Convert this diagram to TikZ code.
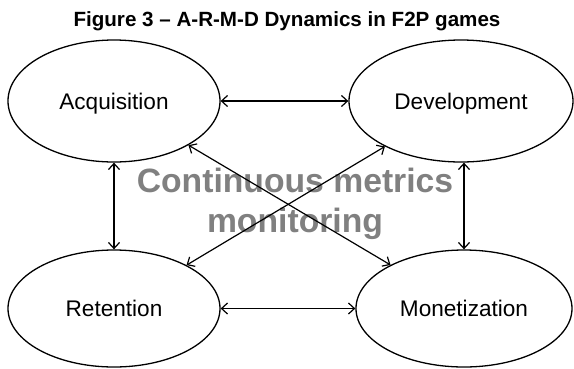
\documentclass[tikz,border=0pt]{standalone}
\usepackage{fontspec}
\setmainfont{Liberation Sans}
\usetikzlibrary{shapes.geometric,arrows.meta}
\definecolor{watermark}{HTML}{808080}
\tikzset{
  stage/.style={ellipse, draw=black, line width=1.3pt, inner sep=0pt,
    font=\fontsize{22.6}{26}\selectfont, text height=16.2pt, text depth=0pt},
  link/.style={line width=1.2pt, {Straight Barb[length=6pt,width=11pt]}-{Straight Barb[length=6pt,width=11pt]}},
  bigtext/.style={font=\bfseries\fontsize{33.7}{40}\selectfont, text=watermark, anchor=base, inner sep=0pt},
  titletext/.style={font=\bfseries\fontsize{20.6}{24}\selectfont, anchor=base, inner sep=0pt}
}
\begin{document}
\begin{tikzpicture}[x=1pt,y=-1pt]
  \useasboundingbox[fill=white] (0,0) rectangle (574,368);
  \node[titletext] (title) at (287,26) {Figure 3 – A-R-M-D Dynamics in F2P games};
  \node[bigtext] (c1) at (295,192) {Continuous metrics};
  \node[bigtext] (c2) at (295,232) {monitoring};
  \node[stage, minimum width=212pt, minimum height=122pt] (A) at (114,101) {Acquisition};
  \node[stage, minimum width=224pt, minimum height=122pt] (D) at (461,101) {Development};
  \node[stage, minimum width=212pt, minimum height=117pt] (R) at (114,308.5) {Retention};
  \node[stage, minimum width=216pt, minimum height=117pt] (M) at (464,308.5) {Monetization};
  \draw[link] (A) -- (D);
  \draw[link] (R) -- (M);
  \draw[link] (A) -- (R);
  \draw[link] (D.south -| M.north) -- (M.north);
  \draw[link] (A) -- (M);
  \draw[link] (R) -- (D);
\end{tikzpicture}
\end{document}
